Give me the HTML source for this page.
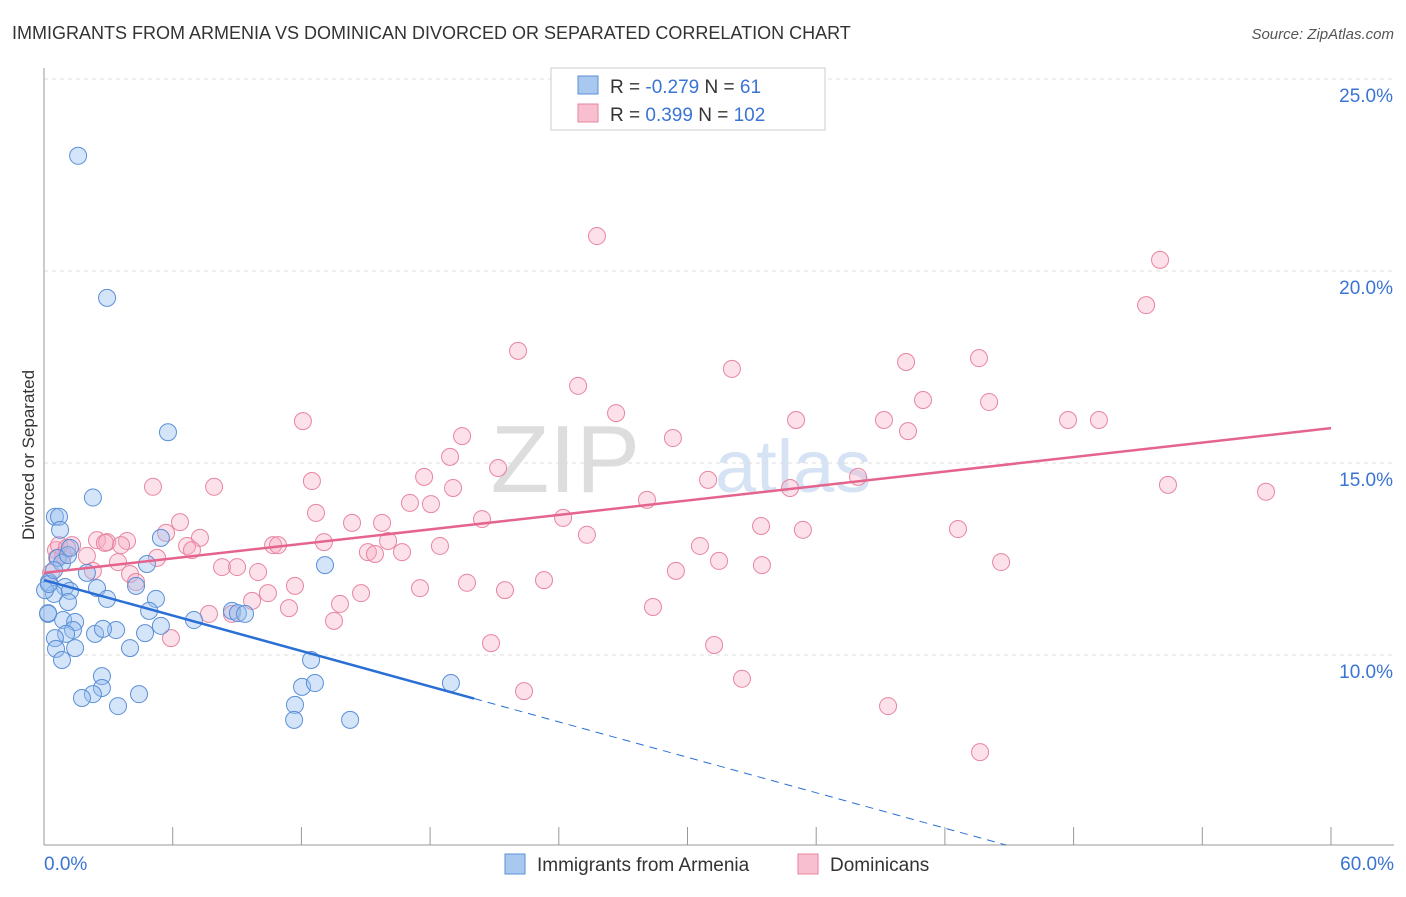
<!DOCTYPE html>
<html><head><meta charset="utf-8"><style>
body{margin:0;background:#fff;font-family:"Liberation Sans",sans-serif}
svg text{font-family:"Liberation Sans",sans-serif}
</style></head><body>
<svg id="c" width="1406" height="892">
<text x="12" y="39" font-size="18" fill="#333">IMMIGRANTS FROM ARMENIA VS DOMINICAN DIVORCED OR SEPARATED CORRELATION CHART</text>
<text x="1394" y="39" font-size="15" fill="#555" font-style="italic" text-anchor="end">Source: ZipAtlas.com</text>
<text x="34" y="455" font-size="17" fill="#333" text-anchor="middle" transform="rotate(-90 34 455)">Divorced or Separated</text>
<text x="640" y="492" font-size="96" fill="#ddd" font-family="Liberation Serif" text-anchor="end">ZIP</text>
<text x="715" y="492" font-size="74" fill="#d6e3f5">atlas</text>
<g id="grid"></g><g id="pts"></g><g id="lines"></g>
<g>
<rect x="551" y="68" width="274" height="62" fill="#fff" stroke="#ccc"/>
<rect x="578" y="76" width="20" height="18" fill="#a9c8f0" stroke="#5b8fd6"/>
<rect x="578" y="104" width="20" height="18" fill="#f7bfd0" stroke="#e8859f"/>
<text x="610" y="93" font-size="19" fill="#333">R = <tspan fill="#3a74d4">-0.279</tspan>   N = <tspan fill="#3a74d4">  61</tspan></text>
<text x="610" y="121" font-size="19" fill="#333">R = <tspan fill="#3a74d4"> 0.399</tspan>   N = <tspan fill="#3a74d4">102</tspan></text>
</g>
<g>
<rect x="505" y="854" width="20" height="20" fill="#a9c8f0" stroke="#5b8fd6"/>
<text x="537" y="871" font-size="19" fill="#333">Immigrants from Armenia</text>
<rect x="798" y="854" width="20" height="20" fill="#f7bfd0" stroke="#e8859f"/>
<text x="830" y="871" font-size="19" fill="#333">Dominicans</text>
</g>
</svg>
<script>
const blueX=[1.59,2.94,5.78,2.28,0.51,0.70,5.45,4.80,13.10,0.65,2.00,0.23,0.98,2.47,0.47,1.21,2.94,1.12,4.29,5.22,4.90,8.76,9.04,9.37,6.99,0.19,0.89,1.45,1.35,1.03,2.38,3.36,2.75,0.51,4.71,5.45,0.56,1.45,4.01,0.84,12.45,2.70,2.70,2.28,1.77,3.45,4.43,12.03,12.63,11.70,11.66,14.27,18.97,0.05,0.23,0.19,0.84,1.12,0.47,1.21,0.75];
const blueY=[23.0,19.3,15.8,14.1,13.6,13.6,13.05,12.37,12.34,12.53,12.14,11.9,11.77,11.74,11.59,11.67,11.46,11.38,11.80,11.46,11.15,11.15,11.09,11.07,10.91,11.07,10.91,10.86,10.65,10.55,10.55,10.65,10.68,10.44,10.57,10.76,10.16,10.18,10.18,9.87,9.87,9.45,9.14,8.98,8.88,8.67,8.98,9.17,9.27,8.70,8.31,8.31,9.27,11.69,11.85,11.09,12.40,12.60,12.21,12.79,13.26];
const pinkX=[25.78,52.03,51.38,22.10,32.07,40.19,43.59,24.90,40.98,44.06,26.67,12.07,35.06,39.16,47.74,49.18,19.49,29.32,40.28,18.93,21.17,17.72,12.49,5.08,7.93,19.07,30.96,37.95,52.40,56.97,17.06,18.04,28.11,34.78,12.68,20.42,24.20,6.34,14.36,15.76,33.43,35.38,42.61,5.69,25.31,2.47,3.87,1.31,7.27,2.94,3.59,6.67,10.68,10.91,13.05,16.04,18.46,30.58,0.56,0.89,6.90,15.10,15.43,16.69,2.00,5.27,3.45,8.30,9.00,9.98,4.01,31.47,33.47,44.62,29.46,0.33,2.28,19.72,23.31,4.29,11.70,10.44,9.70,17.53,21.49,14.78,11.42,13.80,7.69,8.76,28.39,13.52,5.92,20.84,31.24,32.54,22.38,39.35,43.64,0.61,0.70,2.84,1.07];
const pinkY=[20.91,20.29,19.11,17.92,17.45,17.63,17.73,17.01,16.64,16.59,16.30,16.09,16.12,16.12,16.12,16.12,15.70,15.65,15.83,15.16,14.87,14.64,14.53,14.38,14.38,14.35,14.56,14.64,14.43,14.25,13.96,13.93,14.04,14.35,13.70,13.54,13.57,13.46,13.44,13.44,13.36,13.26,13.28,13.18,13.13,12.99,12.97,12.86,13.05,12.94,12.86,12.84,12.86,12.86,12.94,12.97,12.84,12.84,12.73,12.60,12.73,12.68,12.63,12.68,12.58,12.53,12.42,12.29,12.29,12.16,12.11,12.45,12.34,12.42,12.19,12.14,12.19,11.88,11.95,11.90,11.80,11.61,11.41,11.74,11.69,11.61,11.22,11.33,11.07,11.07,11.25,10.89,10.44,10.31,10.26,9.38,9.06,8.67,7.47,12.53,12.86,12.92,12.79];
const yTicks=[10,15,20,25];
const yTickLabels=["10.0%","15.0%","20.0%","25.0%"];
const xTicks=[0,6,12,18,24,30,36,42,48,54,60];
const blueFit=[11.95,-0.1538,20.05];
const pinkFit=[12.14,0.0628];
const X=v=>44+v*21.45, Y=v=>79+(25-v)*38.4;
const NS="http://www.w3.org/2000/svg";
function mk(t,a,p){const e=document.createElementNS(NS,t);for(const k in a)e.setAttribute(k,a[k]);p.appendChild(e);return e;}
const grid=document.getElementById('grid');
yTicks.forEach((t,i)=>{
 const l=mk('line',{x1:44,x2:1394,y1:Y(t),y2:Y(t),stroke:'#ddd','stroke-dasharray':'4,4'},grid);
 
 
 const tx=mk('text',{x:1393,y:Y(t)+23,'font-size':19,fill:'#3a74d4','text-anchor':'end'},grid);
 tx.textContent=yTickLabels[i];
 
 
});
const ax=mk('line',{x1:44,x2:44,y1:68,y2:845,stroke:'#999'},grid);


const bx=mk('line',{x1:44,x2:1394,y1:845,y2:845,stroke:'#999'},grid);


xTicks.forEach(t=>{
 const l=mk('line',{x1:X(t),x2:X(t),y1:827,y2:845,stroke:'#999'},grid);
 
 
});
const x0=mk('text',{x:44,y:870,'font-size':19,fill:'#3a74d4'},grid);x0.textContent='0.0%';


const x1=mk('text',{x:1394,y:870,'font-size':19,fill:'#3a74d4','text-anchor':'end'},grid);x1.textContent='60.0%';


const pts=document.getElementById('pts');
pinkX.forEach((v,i)=>{
 const c=mk('circle',{cx:X(v),cy:Y(pinkY[i]),r:8.5,fill:'rgba(245,170,195,0.35)',stroke:'#e8859f','stroke-width':1},pts);
 
 
});
blueX.forEach((v,i)=>{
 const c=mk('circle',{cx:X(v),cy:Y(blueY[i]),r:8.5,fill:'rgba(150,190,240,0.4)',stroke:'#5b8fd6','stroke-width':1},pts);
 
 
});
const lines=document.getElementById('lines');
const bEnd=(5.05-blueFit[0])/blueFit[1];
const b1=mk('line',{x1:X(0),y1:Y(blueFit[0]),x2:X(blueFit[2]),y2:Y(blueFit[0]+blueFit[1]*blueFit[2]),stroke:'#2a6fd6','stroke-width':2.5},lines);


const b2=mk('line',{x1:X(blueFit[2]),y1:Y(blueFit[0]+blueFit[1]*blueFit[2]),x2:X(bEnd),y2:Y(5.05),stroke:'#2a6fd6','stroke-width':1,'stroke-dasharray':'8,6'},lines);


const p1=mk('line',{x1:X(0),y1:Y(pinkFit[0]),x2:X(60),y2:Y(pinkFit[0]+pinkFit[1]*60),stroke:'#e4648e','stroke-width':2.5},lines);


</script>
</body></html>
